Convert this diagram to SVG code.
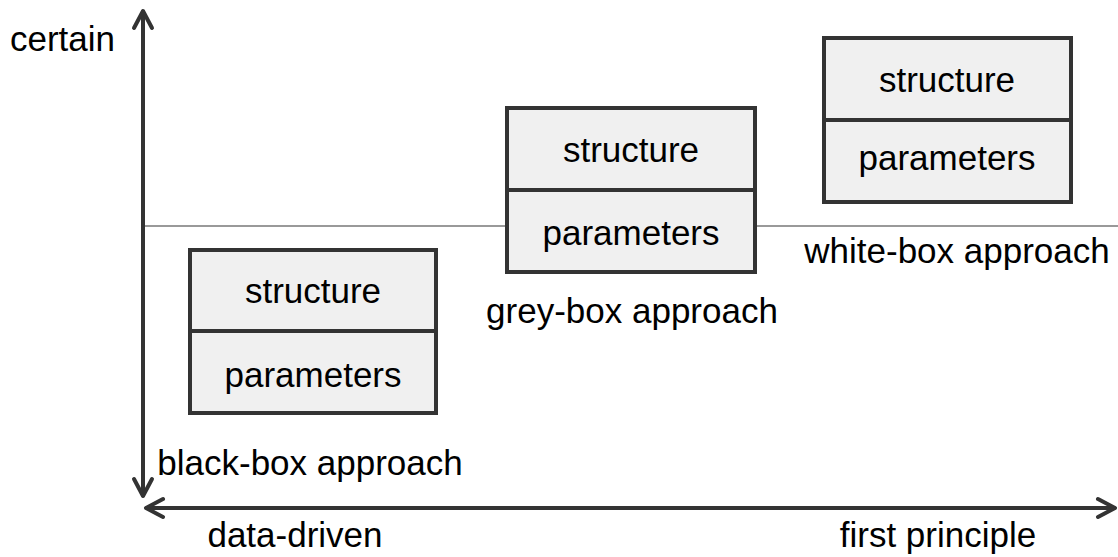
<svg xmlns="http://www.w3.org/2000/svg" width="1118" height="557" viewBox="0 0 1118 557">
  <style>
    text { font-family: "Liberation Sans", Arial, sans-serif; font-size: 35px; fill: #000; }
    .mid { text-anchor: middle; }
    .axis { stroke: #333; stroke-width: 4; fill: none; stroke-linecap: round; stroke-linejoin: round; }
    .box { fill: #f0f0f0; stroke: #333; stroke-width: 4; }
    .divider { stroke: #333; stroke-width: 4; }
    .level { stroke: #999; stroke-width: 2; }
  </style>

  <!-- axes and reference line -->
  <g id="connectors">
    <line class="level" x1="145" y1="226" x2="1118" y2="226"/>
    <line class="axis" x1="143" y1="12" x2="143" y2="495"/>
    <path class="axis" d="M134,28 L143,11 L152,28"/>
    <path class="axis" d="M134,479 L143,496 L152,479"/>
    <line class="axis" x1="147" y1="508" x2="1114" y2="508"/>
    <path class="axis" d="M163,499 L146,508 L163,517"/>
    <path class="axis" d="M1098,499 L1115,508 L1098,517"/>
  </g>

  <!-- axis labels -->
  <g id="axis-labels">
    <text x="10" y="51">certain</text>
    <text class="mid" x="295" y="547">data-driven</text>
    <text class="mid" x="938" y="547">first principle</text>
  </g>

  <g id="black-box">
    <rect class="box" x="190" y="250" width="246" height="163"/>
    <line class="divider" x1="190" y1="331" x2="436" y2="331"/>
    <text class="mid" x="313" y="303">structure</text>
    <text class="mid" x="313" y="387">parameters</text>
    <text class="mid" x="310" y="475">black-box approach</text>
  </g>

  <g id="grey-box">
    <rect class="box" x="507" y="108" width="248" height="164"/>
    <line class="divider" x1="507" y1="190" x2="755" y2="190"/>
    <text class="mid" x="631" y="162">structure</text>
    <text class="mid" x="631" y="245">parameters</text>
    <text class="mid" x="632" y="323">grey-box approach</text>
  </g>

  <g id="white-box">
    <rect class="box" x="824" y="38" width="247" height="164"/>
    <line class="divider" x1="824" y1="120" x2="1071" y2="120"/>
    <text class="mid" x="947" y="92">structure</text>
    <text class="mid" x="947" y="170">parameters</text>
    <text class="mid" x="957" y="263">white-box approach</text>
  </g>
</svg>
